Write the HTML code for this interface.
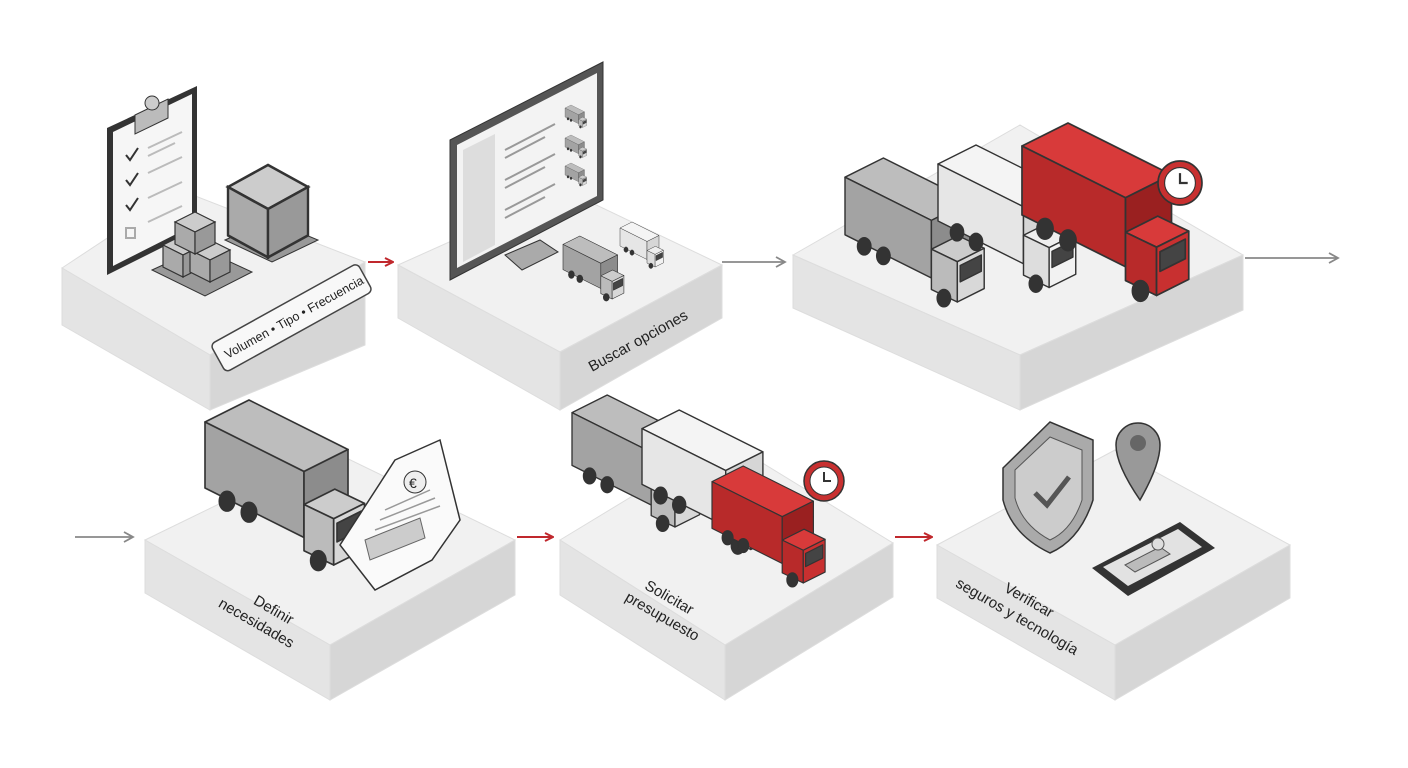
<!DOCTYPE html>
<html><head><meta charset="utf-8"><style>
html,body{margin:0;padding:0;background:#fff;width:1408px;height:768px;overflow:hidden}
svg{display:block}
text{font-family:"Liberation Sans",sans-serif;fill:#222}
</style></head><body>
<svg width="1408" height="768" viewBox="0 0 1408 768" xmlns="http://www.w3.org/2000/svg">
<defs>
<marker id="ar" markerWidth="10" markerHeight="10" refX="9" refY="5" orient="auto" markerUnits="userSpaceOnUse"><path d="M1,1 L9,5 L1,9" fill="none" stroke="#c0282d" stroke-width="2"/></marker>
<marker id="ag" markerWidth="12" markerHeight="12" refX="10" refY="6" orient="auto" markerUnits="userSpaceOnUse"><path d="M1,1 L10,6 L1,11" fill="none" stroke="#888" stroke-width="1.8"/></marker>
<g id="truckG" stroke="#333" stroke-width="1.5" stroke-linejoin="round">
 <polygon points="0,20 40,0 130,45 90,65" fill="#bdbdbd"/>
 <polygon points="0,20 90,65 90,125 0,80" fill="#a3a3a3"/>
 <polygon points="90,65 130,45 130,105 90,125" fill="#8c8c8c"/>
 <polygon points="90,95 118,81 145,94 117,108" fill="#ccc"/>
 <polygon points="90,95 117,108 117,150 90,137" fill="#bbb"/>
 <polygon points="117,108 145,94 145,136 117,150" fill="#d8d8d8"/>
 <polygon points="120,112 142,101 142,118 120,129" fill="#444"/>
 <ellipse cx="20" cy="92" rx="7" ry="9" fill="#333"/><ellipse cx="40" cy="102" rx="7" ry="9" fill="#333"/>
 <ellipse cx="103" cy="146" rx="7" ry="9" fill="#333"/>
</g>
<g id="truckW" stroke="#333" stroke-width="1.5" stroke-linejoin="round">
 <polygon points="0,20 40,0 130,45 90,65" fill="#f4f4f4"/>
 <polygon points="0,20 90,65 90,125 0,80" fill="#e6e6e6"/>
 <polygon points="90,65 130,45 130,105 90,125" fill="#d6d6d6"/>
 <polygon points="90,95 118,81 145,94 117,108" fill="#eee"/>
 <polygon points="90,95 117,108 117,150 90,137" fill="#ddd"/>
 <polygon points="117,108 145,94 145,136 117,150" fill="#f2f2f2"/>
 <polygon points="120,112 142,101 142,118 120,129" fill="#444"/>
 <ellipse cx="20" cy="92" rx="7" ry="9" fill="#333"/><ellipse cx="40" cy="102" rx="7" ry="9" fill="#333"/>
 <ellipse cx="103" cy="146" rx="7" ry="9" fill="#333"/>
</g>
<g id="truckR" stroke="#333" stroke-width="1.5" stroke-linejoin="round">
 <polygon points="0,20 40,0 130,45 90,65" fill="#d83a3a"/>
 <polygon points="0,20 90,65 90,125 0,80" fill="#b82a2a"/>
 <polygon points="90,65 130,45 130,105 90,125" fill="#9a2020"/>
 <polygon points="90,95 118,81 145,94 117,108" fill="#d83a3a"/>
 <polygon points="90,95 117,108 117,150 90,137" fill="#b82a2a"/>
 <polygon points="117,108 145,94 145,136 117,150" fill="#c83030"/>
 <polygon points="120,112 142,101 142,118 120,129" fill="#444"/>
 <ellipse cx="20" cy="92" rx="7" ry="9" fill="#333"/><ellipse cx="40" cy="102" rx="7" ry="9" fill="#333"/>
 <ellipse cx="103" cy="146" rx="7" ry="9" fill="#333"/>
</g>
<g id="clock"><circle cx="0" cy="0" r="20" fill="#c83030" stroke="#333" stroke-width="1.5"/><circle cx="0" cy="0" r="14" fill="#fff" stroke="#333"/><path d="M0,-9 V0 H7" stroke="#333" stroke-width="2" fill="none"/></g>
<g id="box" stroke="#333" stroke-width="1.2"><polygon points="0,10 20,0 40,10 20,20" fill="#ccc"/><polygon points="0,10 20,20 20,42 0,32" fill="#aaa"/><polygon points="20,20 40,10 40,32 20,42" fill="#999"/></g>
</defs>

<!-- Platforms -->
<g stroke="#ddd" stroke-width="1">
<polygon points="62,268 180,190 365,262 210,355" fill="#f1f1f1"/>
<polygon points="62,268 210,355 210,410 62,325" fill="#e4e4e4"/>
<polygon points="210,355 365,262 365,345 210,410" fill="#d6d6d6"/>

<polygon points="398,265 565,190 722,265 560,352" fill="#f1f1f1"/>
<polygon points="398,265 560,352 560,410 398,318" fill="#e4e4e4"/>
<polygon points="560,352 722,265 722,318 560,410" fill="#d6d6d6"/>

<polygon points="793,255 1020,125 1243,255 1020,355" fill="#f1f1f1"/>
<polygon points="793,255 1020,355 1020,410 793,308" fill="#e4e4e4"/>
<polygon points="1020,355 1243,255 1243,310 1020,410" fill="#d6d6d6"/>

<polygon points="145,540 330,450 515,540 330,645" fill="#f1f1f1"/>
<polygon points="145,540 330,645 330,700 145,593" fill="#e4e4e4"/>
<polygon points="330,645 515,540 515,595 330,700" fill="#d6d6d6"/>

<polygon points="560,540 725,440 893,543 725,645" fill="#f1f1f1"/>
<polygon points="560,540 725,645 725,700 560,595" fill="#e4e4e4"/>
<polygon points="725,645 893,543 893,597 725,700" fill="#d6d6d6"/>

<polygon points="937,545 1115,450 1290,545 1115,645" fill="#f1f1f1"/>
<polygon points="937,545 1115,645 1115,700 937,598" fill="#e4e4e4"/>
<polygon points="1115,645 1290,545 1290,598 1115,700" fill="#d6d6d6"/>
</g>

<!-- Arrows -->
<line x1="368" y1="262" x2="393" y2="262" stroke="#c0282d" stroke-width="2" marker-end="url(#ar)"/>
<line x1="722" y1="262" x2="785" y2="262" stroke="#888" stroke-width="1.8" marker-end="url(#ag)"/>
<line x1="1245" y1="258" x2="1338" y2="258" stroke="#888" stroke-width="1.8" marker-end="url(#ag)"/>
<line x1="75" y1="537" x2="133" y2="537" stroke="#888" stroke-width="1.8" marker-end="url(#ag)"/>
<line x1="517" y1="537" x2="553" y2="537" stroke="#c0282d" stroke-width="2" marker-end="url(#ar)"/>
<line x1="895" y1="537" x2="932" y2="537" stroke="#c0282d" stroke-width="2" marker-end="url(#ar)"/>

<!-- Step 1: clipboard + boxes -->
<polygon points="107,128 197,86 197,230 107,275" fill="#333"/>
<polygon points="113,132 192,94 192,226 113,266" fill="#f6f6f6"/>
<polygon points="135,115 168,99 168,118 135,134" fill="#bbb" stroke="#333"/>
<circle cx="152" cy="103" r="7" fill="#ccc" stroke="#333"/>
<g stroke="#333" stroke-width="2" fill="none">
<path d="M126,155 l4,5 l8,-12"/><path d="M126,180 l4,5 l8,-12"/><path d="M126,205 l4,5 l8,-12"/>
<rect x="126" y="228" width="9" height="10" stroke="#aaa"/>
</g>
<g stroke="#bbb" stroke-width="2"><line x1="148" y1="148" x2="182" y2="132"/><line x1="148" y1="156" x2="175" y2="143"/><line x1="148" y1="173" x2="182" y2="157"/><line x1="148" y1="198" x2="182" y2="182"/><line x1="148" y1="222" x2="182" y2="206"/></g>
<polygon points="152,270 200,248 252,272 205,296" fill="#999" stroke="#333"/>
<use href="#box" x="163" y="235"/><use href="#box" x="190" y="240"/><use href="#box" x="175" y="212"/>
<polygon points="225,240 270,220 318,240 272,262" fill="#999" stroke="#333"/>
<g transform="translate(228,165) scale(2,2.2)"><use href="#box"/></g>

<!-- label tag -->
<g transform="translate(220,362) rotate(-29)">
<rect x="0" y="-20" width="168" height="32" rx="5" fill="#f8f8f8" stroke="#444" stroke-width="1.5"/>
<text x="8" y="1" font-size="12.5">Volumen • Tipo • Frecuencia</text>
</g>

<!-- Step 2: monitor -->
<polygon points="450,140 603,62 603,200 450,280" fill="#555" stroke="#333"/>
<polygon points="457,145 597,73 597,196 457,268" fill="#f3f3f3"/>
<polygon points="463,150 495,134 495,245 463,262" fill="#ddd"/>
<g stroke="#999" stroke-width="2"><line x1="505" y1="150" x2="555" y2="124"/><line x1="505" y1="158" x2="545" y2="137"/><line x1="505" y1="180" x2="555" y2="154"/><line x1="505" y1="188" x2="545" y2="167"/><line x1="505" y1="210" x2="555" y2="184"/><line x1="505" y1="218" x2="545" y2="197"/></g>
<polygon points="505,255 540,240 558,252 522,270" fill="#aaa" stroke="#333"/>
<g transform="translate(563,236) scale(0.42)"><use href="#truckG"/></g>
<g transform="translate(620,222) scale(0.3)"><use href="#truckW"/></g>
<g transform="translate(565,105) scale(0.15)"><use href="#truckG"/></g>
<g transform="translate(565,135) scale(0.15)"><use href="#truckG"/></g>
<g transform="translate(565,163) scale(0.15)"><use href="#truckG"/></g>
<text transform="translate(592,372) rotate(-29)" font-size="15">Buscar opciones</text>

<!-- Step 3 trucks -->
<g transform="translate(845,158) scale(0.96)"><use href="#truckG"/></g>
<g transform="translate(938,145) scale(0.95)"><use href="#truckW"/></g>
<g transform="translate(1022,123) scale(1.15)"><use href="#truckR"/></g>
<g transform="translate(1180,183) scale(1.1)"><use href="#clock"/></g>

<!-- Step 4 -->
<g transform="translate(205,400) scale(1.1)"><use href="#truckG"/></g>
<polygon points="395,460 440,440 460,520 432,560 375,590 340,545" fill="#fafafa" stroke="#333" stroke-width="1.5"/>
<circle cx="415" cy="482" r="11" fill="#eee" stroke="#333"/><text x="409" y="488" font-size="14">€</text>
<g stroke="#999" stroke-width="1.5"><line x1="385" y1="510" x2="430" y2="490"/><line x1="380" y1="520" x2="435" y2="498"/><line x1="375" y1="530" x2="440" y2="506"/></g>
<polygon points="365,540 420,518 425,538 370,560" fill="#ccc" stroke="#666"/>
<text transform="translate(290,625) rotate(30)" font-size="15" text-anchor="end"><tspan x="0" y="0">Definir</tspan><tspan x="12" y="20">necesidades</tspan></text>

<!-- Step 5 -->
<g transform="translate(572,395) scale(0.88)"><use href="#truckG"/></g>
<g transform="translate(642,410) scale(0.93)"><use href="#truckW"/></g>
<g transform="translate(712,466) scale(0.78)"><use href="#truckR"/></g>
<g transform="translate(824,481)"><use href="#clock"/></g>
<text transform="translate(690,615) rotate(30)" font-size="15" text-anchor="end"><tspan x="0" y="0">Solicitar</tspan><tspan x="18" y="20">presupuesto</tspan></text>

<!-- Step 6 -->
<path d="M1003,468 L1050,422 L1093,440 L1093,500 Q1080,540 1050,553 Q1012,535 1003,500 Z" fill="#aaa" stroke="#333" stroke-width="1.5"/>
<path d="M1015,470 L1050,437 L1082,450 L1082,500 Q1072,530 1050,540 Q1022,525 1015,498 Z" fill="#ccc" stroke="#555"/>
<path d="M1035,493 l12,12 l22,-28" stroke="#555" stroke-width="5" fill="none"/>
<path d="M1140,500 Q1116,465 1116,445 A22,22 0 1 1 1160,445 Q1160,465 1140,500 Z" fill="#999" stroke="#333" stroke-width="1.5"/>
<circle cx="1138" cy="443" r="8" fill="#666"/>
<polygon points="1092,568 1180,522 1215,548 1128,596" fill="#333"/>
<polygon points="1103,567 1178,529 1202,547 1128,586" fill="#e2e2e2"/>
<polygon points="1125,565 1160,547 1170,554 1135,572" fill="#bbb" stroke="#555"/>
<circle cx="1158" cy="544" r="6" fill="#ddd" stroke="#555"/>
<text transform="translate(1050,618) rotate(30)" font-size="15" text-anchor="end"><tspan x="0" y="0">Verificar</tspan><tspan x="40" y="20">seguros y tecnología</tspan></text>
</svg>
</body></html>
